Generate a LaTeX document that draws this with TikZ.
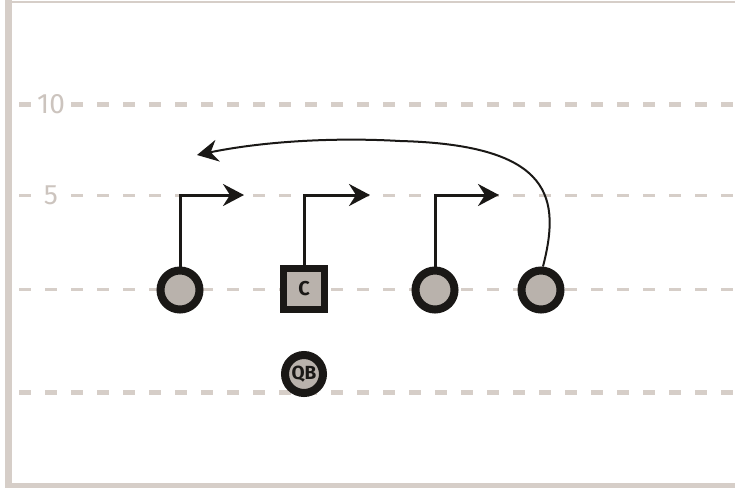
\documentclass[tikz,border=0pt]{standalone}
\usepackage{fontspec}
\setsansfont{Fira Sans}
\usetikzlibrary{arrows.meta}
\definecolor{yard}{RGB}{214,206,200}
\definecolor{num}{RGB}{204,196,190}
\definecolor{pad}{RGB}{185,178,172}
\definecolor{ink}{RGB}{26,24,22}
\tikzset{
  player/.style={circle, draw=ink, fill=pad, line width=8pt, minimum size=39pt, inner sep=0pt},
  center/.style={rectangle, draw=ink, fill=pad, line width=7pt, minimum size=41pt, inner sep=0pt,
    font=\sffamily\bfseries\fontsize{20}{20}\selectfont, text=ink},
  qb/.style={player, minimum size=38pt, font=\sffamily\bfseries\fontsize{19}{19}\selectfont, text=ink},
  thinyard/.style={yard, line width=3pt, dash pattern=on 12pt off 14pt},
  thickyard/.style={yard, line width=5pt, dash pattern=on 12pt off 14pt},
  yardnum/.style={fill=white, text=num, inner sep=2pt, font=\sffamily\fontsize{28}{28}\selectfont},
  route/.style={ink, line width=3pt, -{Stealth[length=21pt, width=22pt, inset=7pt]}}
}
\begin{document}
\begin{tikzpicture}[x=1pt, y=-1pt]
\useasboundingbox (0,0) rectangle (735,488);
% frame
\draw[yard, line width=2.5pt] (5,2) -- (735,2);
\draw[yard, line width=7pt] (8.5,0) -- (8.5,488);
\draw[yard, line width=5pt] (5,485.5) -- (735,485.5);
% yard lines
\draw[thickyard] (19,104) -- (735,104);
\draw[thinyard] (19,195) -- (735,195);
\draw[thinyard] (19,289) -- (735,289);
\draw[thickyard] (19,392) -- (735,392);
\node[yardnum] (ten) at (51,104) {10};
\node[yardnum] (five) at (51,195) {5};
% players
\node[player] (p1) at (180,290) {};
\node[center] (c) at (304,289) {C};
\node[player] (p3) at (435,290) {};
\node[player] (p4) at (541,290) {};
\node[qb] (q) at (304,374) {QB};
% routes
\coordinate (b1) at (180,195);
\coordinate (b2) at (304,195);
\coordinate (b3) at (435,195);
\coordinate (e1) at (244,195);
\coordinate (e2) at (370,195);
\coordinate (e3) at (499,195);
\draw[route] (p1.north) -- (b1) -- (e1);
\draw[route] (c.north) -- (b2) -- (e2);
\draw[route] (p3.north) -- (b3) -- (e3);
\coordinate (top) at (400,141);
\coordinate (e4) at (197,155);
\draw[route, line width=2pt] (p4.north) ++(2,0) .. controls (560,200) and (555,145) .. (top)
  .. controls (330,137) and (260,142) .. (e4);
\end{tikzpicture}
\end{document}
